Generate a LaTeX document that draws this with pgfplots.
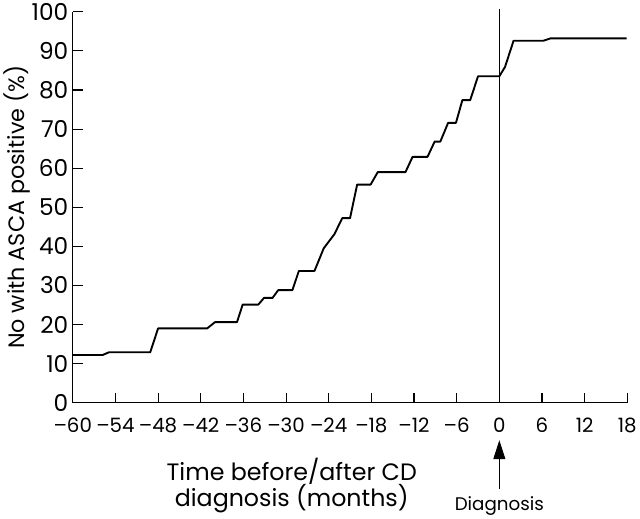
\documentclass[border=0pt]{standalone}
\usepackage{pgfplots}
\pgfplotsset{compat=1.18}
\usepackage{fontspec}
\setmainfont{Poppins}
\usetikzlibrary{arrows.meta}
\begin{document}
\begin{tikzpicture}[x=1bp,y=1bp]
\begin{axis}[
  scale only axis, width=559bp, height=394bp,
  xmin=-60, xmax=18, ymin=0, ymax=100,
  axis x line*=bottom, axis y line*=left,
  axis line style={line width=1.1bp},
  tick align=inside, major tick length=10bp,
  tick style={line width=1.1bp, black},
  xtick={-60,-54,...,18},
  xticklabels={–60,–54,–48,–42,–36,–30,–24,–18,–12,–6,0,6,12,18},
  ytick={0,10,...,100},
  /pgf/number format/assume math mode=true,
  xticklabel style={font=\fontsize{20}{22}\selectfont, yshift=-12bp},
  yticklabel style={font=\fontsize{23.5}{25}\selectfont, xshift=-1bp},
  ylabel={No with ASCA positive (\%)},
  ylabel style={font=\fontsize{22.5}{25}\selectfont, yshift=-5bp},
  clip=false,
]
\addplot[black, line width=1.9bp, line join=round] coordinates {
(-60,12.2) (-55.8,12.2) (-54.9,12.9) (-49.1,12.9) (-48.0,19.0) (-41.1,19.0)
(-40.0,20.6) (-36.9,20.6) (-36.1,25.1) (-33.9,25.1) (-33.1,26.8) (-31.9,26.8)
(-31.1,28.8) (-29.1,28.8) (-28.2,33.7) (-26.0,33.7) (-24.7,39.5) (-23.2,43.1)
(-22.1,47.2) (-21.0,47.2) (-20.0,55.8) (-18.1,55.8) (-17.1,59.0) (-13.2,59.0)
(-12.2,62.9) (-10.1,62.9) (-9.1,66.8) (-8.3,66.8) (-7.2,71.6) (-6.1,71.6)
(-5.2,77.4) (-4.1,77.4) (-3.0,83.5) (0.0,83.5) (0.8,85.9) (2.0,92.6)
(6.2,92.6) (7.2,93.2) (17.9,93.2)
};
\addplot[black, line width=1bp] coordinates {(0,0) (0,100.6)};
\draw[line width=1bp, -{Triangle[length=19bp,width=12bp]}] (axis cs:0,-22.1) -- (axis cs:0,-9.6);
\node[font=\fontsize{18.5}{20}\selectfont, anchor=base] at (axis cs:0,-27.6) {Diagnosis};
\node[font=\fontsize{24}{27}\selectfont, align=center] at (axis cs:-29.2,-21.2) {Time before/after CD\\diagnosis (months)};
\end{axis}
\end{tikzpicture}
\end{document}
